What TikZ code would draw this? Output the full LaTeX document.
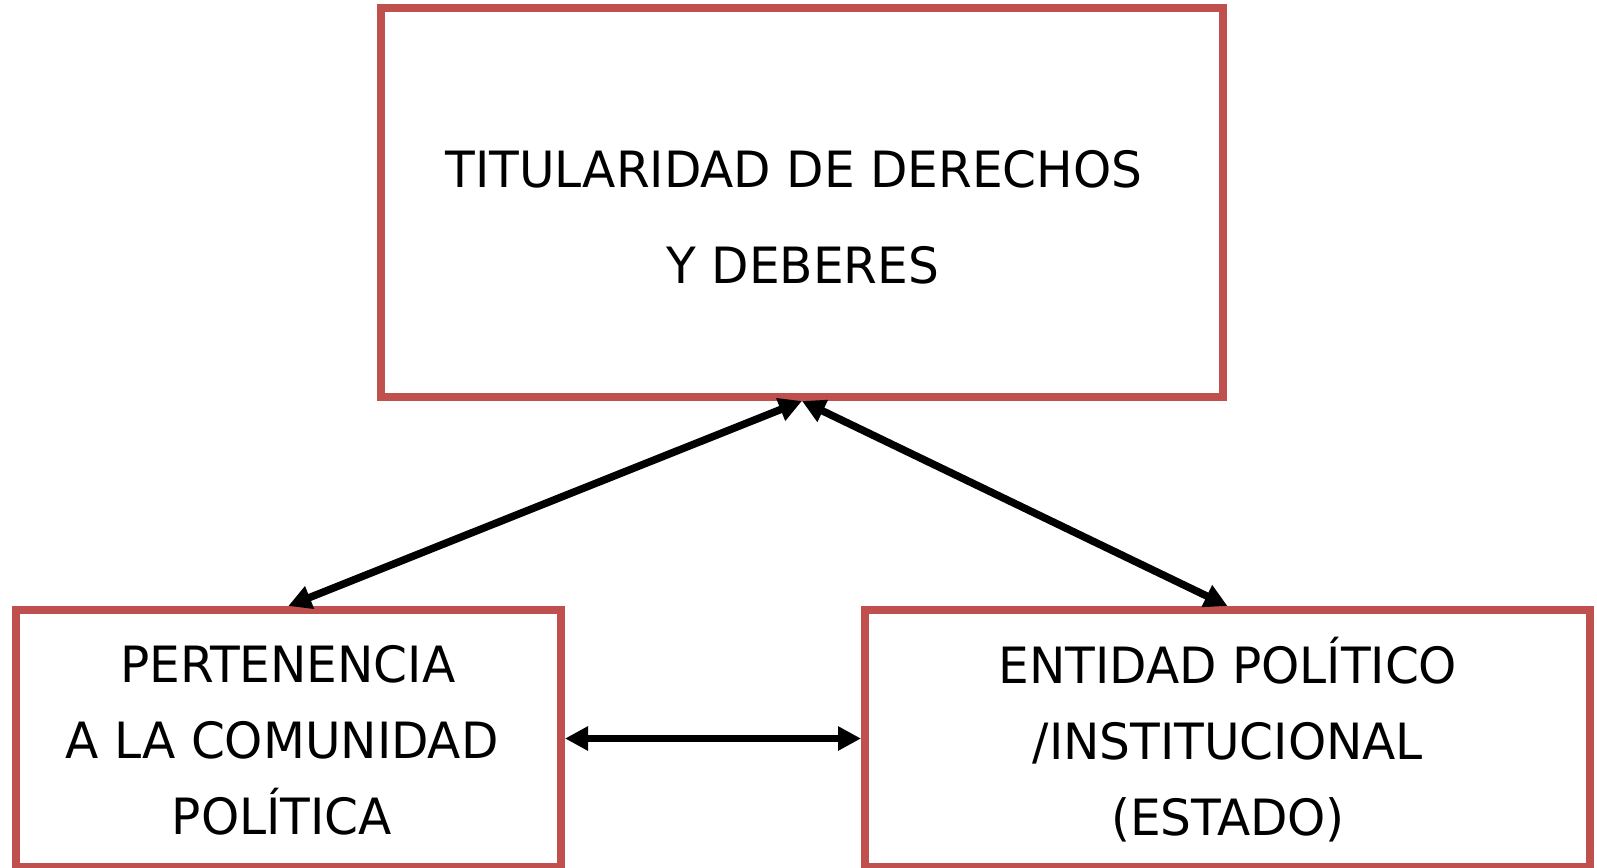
\documentclass[tikz,border=0pt]{standalone}
\usepackage{fontspec}
\setmainfont[FakeStretch=1.08]{DejaVu Sans Condensed}
\usetikzlibrary{arrows.meta}
\definecolor{myred}{RGB}{192,80,77}
\tikzstyle{redbox} = [draw=myred, line width=8pt, inner sep=0,
    fill=white]
\tikzstyle{boxtext} = [inner sep=0, align=center,
    font=\fontsize{50}{76}\selectfont]
\tikzstyle{link} = [{Triangle[length=23pt,width=23pt]}-{Triangle[length=23pt,width=23pt]},
    line width=7.5pt, black]

\begin{document}
\begin{tikzpicture}[x=1pt,y=-1pt]
\useasboundingbox (0,0) rectangle (1597,867);

%%% boxes
\node[redbox, minimum width=842pt, minimum height=388.5pt] (tit) at (802,202.75) {};
\node[redbox, minimum width=545.5pt, minimum height=257pt] (per) at (288.25,738.5) {};
\node[redbox, minimum width=725pt, minimum height=257pt] (ent) at (1227.5,738.5) {};

%%% texts
\node[boxtext] (titx) at (794,217) {TITULARIDAD DE DERECHOS \\[20pt] \hspace*{18pt}Y DEBERES};
\node[boxtext] (perx) at (282,740) {\hspace*{12pt}PERTENENCIA \\ A LA COMUNIDAD \\ POLÍTICA};
\node[boxtext] (entx) at (1228,740) {ENTIDAD POLÍTICO \\ /INSTITUCIONAL \\ (ESTADO)};

%%% arrows
\draw[link] (per.north) -- (tit.south);
\draw[link] (ent.north) -- (tit.south);
\draw[link] (per.east) -- (ent.west);

\end{tikzpicture}
\end{document}
